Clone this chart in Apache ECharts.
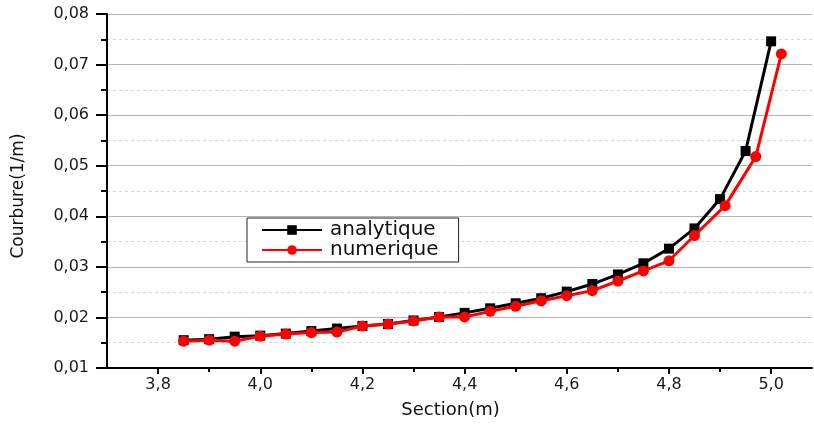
<!DOCTYPE html>
<html>
<head>
<meta charset="utf-8">
<script src="https://cdn.jsdelivr.net/npm/echarts@6/dist/echarts.min.js"></script>
<style>
  html, body { margin: 0; padding: 0; background: #fff; }
  #chart { width: 814px; height: 425px; }
</style>
</head>
<body>
<div id="chart"></div>
<script>
// Curvature along the section: analytical vs numerical solution
const sectionsAnalytique = [3.85, 3.90, 3.95, 4.00, 4.05, 4.10, 4.15, 4.20, 4.25, 4.30, 4.35, 4.40,
                            4.45, 4.50, 4.55, 4.60, 4.65, 4.70, 4.75, 4.80, 4.85, 4.90, 4.95, 5.00];
const courbureAnalytique = [0.0155, 0.0157, 0.0162, 0.0164, 0.0168, 0.0173, 0.0178, 0.0183, 0.0187, 0.0194, 0.0201, 0.0209,
                            0.0218, 0.0228, 0.0238, 0.0251, 0.0266, 0.0285, 0.0307, 0.0336, 0.0376, 0.0434, 0.0529, 0.0746];

const sectionsNumerique = [3.85, 3.90, 3.95, 4.00, 4.05, 4.10, 4.15, 4.20, 4.25, 4.30, 4.35, 4.40,
                           4.45, 4.50, 4.55, 4.60, 4.65, 4.70, 4.75, 4.80, 4.85, 4.91, 4.97, 5.02];
const courbureNumerique = [0.0153, 0.0155, 0.0153, 0.0163, 0.0167, 0.0170, 0.0171, 0.0183, 0.0187, 0.0193, 0.0201, 0.0201,
                           0.0212, 0.0222, 0.0233, 0.0243, 0.0253, 0.0272, 0.0292, 0.0312, 0.0362, 0.0421, 0.0518, 0.0721];

// Axis ticks
const xMajorTicks = [3.8, 4.0, 4.2, 4.4, 4.6, 4.8, 5.0];
const xMinorTicks = [3.9, 4.1, 4.3, 4.5, 4.7, 4.9];

const pairs = (xs, ys) => xs.map((x, i) => [x, ys[i]]);
const comma = (v, d) => v.toFixed(d).replace('.', ',');

const FONT = '"DejaVu Sans", Verdana, sans-serif';
const X_MIN = 3.7, X_MAX = 5.08;

const chart = echarts.init(document.getElementById('chart'), null, { renderer: 'canvas' });

chart.setOption({
  animation: false,
  backgroundColor: '#ffffff',
  grid: { left: 107, right: 2, top: 14, bottom: 57, containLabel: false },
  legend: {
    orient: 'vertical',
    left: 247,
    top: 218,
    padding: [2, 20, 2, 14],
    itemGap: 0,
    itemWidth: 60,
    itemHeight: 12,
    borderColor: '#222',
    borderWidth: 1,
    backgroundColor: '#fff',
    textStyle: { fontFamily: FONT, fontSize: 20, color: '#111', padding: [0, 0, 0, 3] },
    data: ['analytique', 'numerique']
  },
  xAxis: [
    {
      type: 'value',
      min: X_MIN,
      max: X_MAX,
      name: 'Section(m)',
      nameLocation: 'middle',
      nameGap: 33,
      nameTextStyle: { fontFamily: FONT, fontSize: 18, color: '#111', padding: [0, 18, 0, 0] },
      axisLine: { show: true, onZero: false, lineStyle: { color: '#000', width: 2 } },
      axisTick: { show: true, customValues: xMajorTicks, length: 6, lineStyle: { color: '#000', width: 2 } },
      axisLabel: {
        customValues: xMajorTicks,
        fontFamily: FONT, fontSize: 16, color: '#1a1a1a', margin: 9,
        formatter: v => comma(v, 1)
      },
      splitLine: { show: false }
    },
    {
      type: 'value',
      min: X_MIN,
      max: X_MAX,
      position: 'bottom',
      axisLine: { show: false },
      axisTick: { show: true, customValues: xMinorTicks, length: 4, lineStyle: { color: '#000', width: 2 } },
      axisLabel: { show: false },
      splitLine: { show: false }
    }
  ],
  yAxis: {
    type: 'value',
    min: 0.01,
    max: 0.08,
    interval: 0.01,
    name: 'Courbure(1/m)',
    nameLocation: 'middle',
    nameRotate: 90,
    nameGap: 80,
    nameTextStyle: { fontFamily: FONT, fontSize: 17, color: '#111', padding: [0, 10, 0, 0] },
    axisLine: { show: true, onZero: false, lineStyle: { color: '#000', width: 2 } },
    axisTick: { show: true, length: 11, lineStyle: { color: '#000', width: 2 } },
    minorTick: { show: true, splitNumber: 2, length: 6, lineStyle: { color: '#000', width: 2 } },
    axisLabel: {
      fontFamily: FONT, fontSize: 16, color: '#1a1a1a', margin: 18,
      formatter: v => comma(v, 2)
    },
    splitLine: { show: true, lineStyle: { color: '#b4b4b4', width: 1 } },
    minorSplitLine: { show: true, lineStyle: { color: '#d6d6d6', width: 1, type: [3, 3] } }
  },
  series: [
    {
      name: 'analytique',
      type: 'line',
      xAxisIndex: 0,
      data: pairs(sectionsAnalytique, courbureAnalytique),
      symbol: 'rect',
      symbolSize: 10,
      itemStyle: { color: '#000' },
      lineStyle: { color: '#000', width: 3 },
      z: 2
    },
    {
      name: 'numerique',
      type: 'line',
      xAxisIndex: 0,
      data: pairs(sectionsNumerique, courbureNumerique),
      symbol: 'circle',
      symbolSize: 11,
      itemStyle: { color: '#ff0000' },
      lineStyle: { color: '#ff0000', width: 3 },
      z: 3
    }
  ]
});
</script>
</body>
</html>
